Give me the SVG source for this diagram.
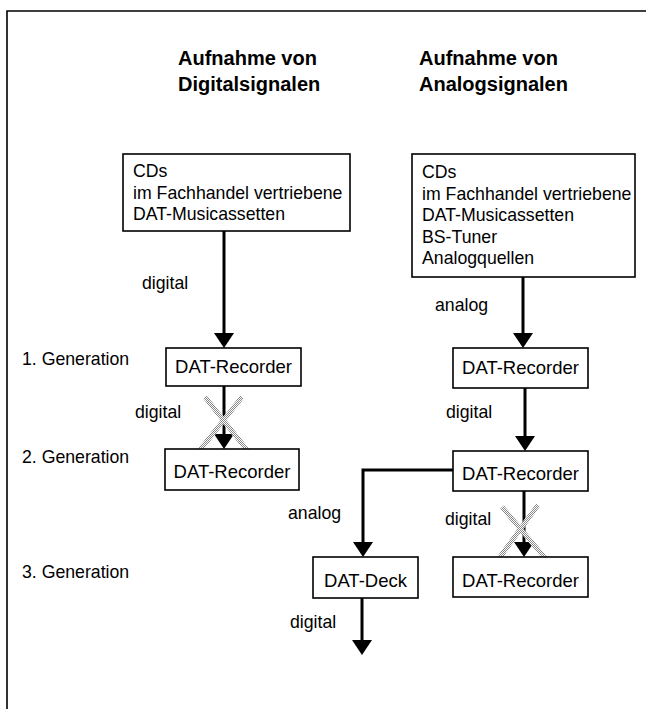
<svg xmlns="http://www.w3.org/2000/svg" width="646" height="709" viewBox="0 0 646 709">
<style>
  text { font-family: "Liberation Sans", Arial, sans-serif; fill: #000; }
  .h { font-size: 20px; font-weight: bold; }
  .t { font-size: 17.7px; }
  .d { font-size: 18.5px; }
  .box { fill: #fff; stroke: #000; stroke-width: 1.6; }
  .arr { fill: none; stroke: #000; stroke-width: 3; }
  .x { stroke: url(#dither); stroke-width: 5; fill: none; }
  .frame { stroke: #000; stroke-width: 1.6; fill: none; }
</style>
<defs>
  <marker id="ah" viewBox="0 0 15 20" refX="12" refY="10" markerWidth="15" markerHeight="20" markerUnits="userSpaceOnUse" orient="auto">
    <path d="M0,0 L15,10 L0,20 Z" fill="#000"/>
  </marker>
  <pattern id="dither" width="2" height="2" patternUnits="userSpaceOnUse">
    <rect width="2" height="2" fill="#fff"/>
    <rect x="0" y="0" width="1" height="1" fill="#888"/>
    <rect x="1" y="1" width="1" height="1" fill="#888"/>
  </pattern>
</defs>
<rect width="646" height="709" fill="#fff"/>
<path class="frame" d="M7,709 L7,11 L646,11"/>

<g id="headings">
  <text class="h" x="178" y="65">Aufnahme von</text>
  <text class="h" x="178" y="91">Digitalsignalen</text>
  <text class="h" x="419" y="65">Aufnahme von</text>
  <text class="h" x="419" y="91">Analogsignalen</text>
</g>

<g id="generations">
  <text class="t" x="22" y="365">1. Generation</text>
  <text class="t" x="22" y="463">2. Generation</text>
  <text class="t" x="22" y="578">3. Generation</text>
</g>

<g id="connectors">
  <path class="arr" d="M224,231 L224,345" marker-end="url(#ah)"/>
  <path class="arr" d="M224,386 L224,446" marker-end="url(#ah)"/>
  <path class="arr" d="M523,277 L523,345" marker-end="url(#ah)"/>
  <path class="arr" d="M525,388 L525,448" marker-end="url(#ah)"/>
  <path class="arr" d="M453,470 L363,470 L363,554" marker-end="url(#ah)"/>
  <path class="arr" d="M524,491 L524,554" marker-end="url(#ah)"/>
  <path class="arr" d="M362,598 L362,652" marker-end="url(#ah)"/>
  <path class="x" d="M205,397 L247,450 M242,397 L200,450"/>
  <path class="x" d="M502,507 L545,558 M538,505 L500,557"/>
</g>

<g id="labels">
  <text class="t" x="142" y="289">digital</text>
  <text class="t" x="135" y="418">digital</text>
  <text class="t" x="435" y="311">analog</text>
  <text class="t" x="446" y="418">digital</text>
  <text class="t" x="288" y="519">analog</text>
  <text class="t" x="445" y="525">digital</text>
  <text class="t" x="290" y="628">digital</text>
</g>

<g id="src-digital">
  <rect class="box" x="123" y="154" width="227" height="77"/>
  <text class="t" x="133" y="177">CDs</text>
  <text class="t" x="133" y="198.5">im Fachhandel vertriebene</text>
  <text class="t" x="133" y="220">DAT-Musicassetten</text>
</g>

<g id="src-analog">
  <rect class="box" x="412" y="154" width="223" height="123"/>
  <text class="t" x="422" y="178">CDs</text>
  <text class="t" x="422" y="199.5">im Fachhandel vertriebene</text>
  <text class="t" x="422" y="221">DAT-Musicassetten</text>
  <text class="t" x="422" y="242.5">BS-Tuner</text>
  <text class="t" x="422" y="264">Analogquellen</text>
</g>

<g id="dat-l1">
  <rect class="box" x="166" y="348" width="135" height="38"/>
  <text class="d" x="233.5" y="373" text-anchor="middle">DAT-Recorder</text>
</g>
<g id="dat-l2">
  <rect class="box" x="165" y="449" width="134" height="41"/>
  <text class="d" x="232" y="478" text-anchor="middle">DAT-Recorder</text>
</g>
<g id="dat-r1">
  <rect class="box" x="453" y="348" width="135" height="40"/>
  <text class="d" x="520.5" y="374" text-anchor="middle">DAT-Recorder</text>
</g>
<g id="dat-r2">
  <rect class="box" x="453" y="451" width="135" height="40"/>
  <text class="d" x="520.5" y="480" text-anchor="middle">DAT-Recorder</text>
</g>
<g id="dat-deck">
  <rect class="box" x="313" y="557" width="105" height="41"/>
  <text class="d" x="365.5" y="587" text-anchor="middle">DAT-Deck</text>
</g>
<g id="dat-r3">
  <rect class="box" x="453" y="557" width="135" height="40"/>
  <text class="d" x="520.5" y="587" text-anchor="middle">DAT-Recorder</text>
</g>
</svg>
